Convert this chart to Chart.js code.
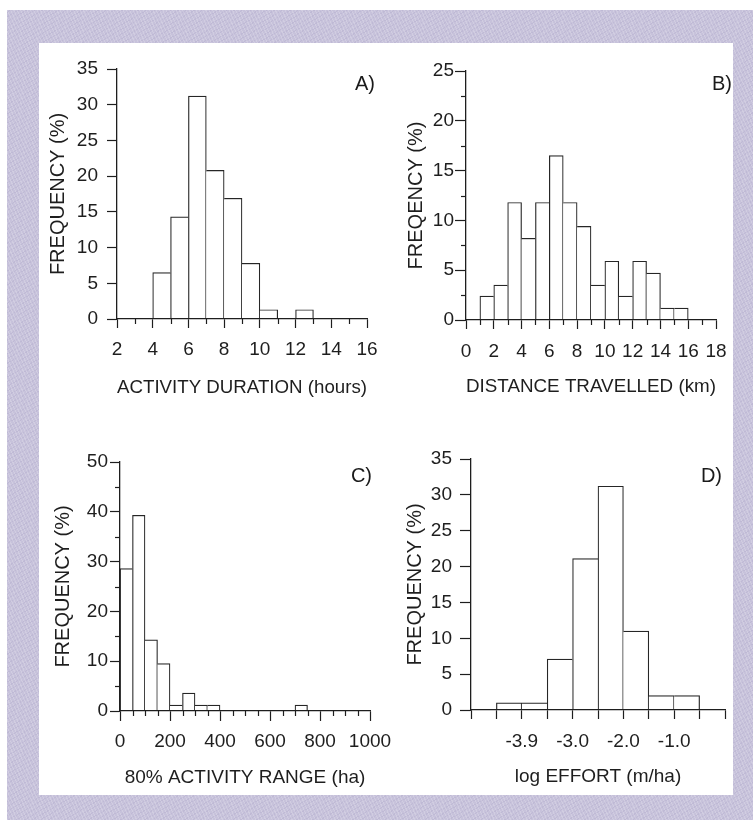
<!DOCTYPE html>
<html>
<head>
<meta charset="utf-8">
<script src="https://cdn.jsdelivr.net/npm/chart.js@4.4.1/dist/chart.umd.min.js"></script>
<style>
  html, body { margin: 0; padding: 0; background: #fff; }
  body { width: 753px; height: 820px; position: relative; overflow: hidden; font-family: "Liberation Sans", Arial, sans-serif; }
  #frame {
    position: absolute; left: 7px; top: 10px; right: 0; bottom: 0;
    background:
      repeating-linear-gradient(65deg, rgba(255,255,255,0.18) 0 1px, transparent 1px 3px),
      repeating-linear-gradient(-30deg, rgba(120,110,160,0.10) 0 1px, transparent 1px 4px),
      #c7c2db;
  }
  #sheet { position: absolute; left: 39px; top: 43px; width: 694px; height: 752px; background: #fff; }
  canvas { position: absolute; left: 0; top: 0; }
  .tag { position: absolute; font-size: 20px; line-height: 1; color: #1a1a1a; }
</style>
</head>
<body>
<div id="frame"></div>
<div id="sheet"></div>
<canvas id="histA" width="753" height="820"></canvas>
<canvas id="histB" width="753" height="820"></canvas>
<canvas id="histC" width="753" height="820"></canvas>
<canvas id="histD" width="753" height="820"></canvas>
<div class="tag" style="right:378px; top:73px;">A)</div>
<div class="tag" style="right:21px; top:73px;">B)</div>
<div class="tag" style="right:381px; top:465px;">C)</div>
<div class="tag" style="right:31px; top:465px;">D)</div>

<script>
// A) activity duration, 1 h classes (start of class)
const durationBins = [4, 5, 6, 7, 8, 9, 10, 12];
const durationFreq = [6.5, 14.3, 31.2, 20.8, 16.9, 7.8, 1.3, 1.3];
const durationLabels = [2, 4, 6, 8, 10, 12, 14, 16];

// B) distance travelled, 1 km classes
const distanceBins = [1, 2, 3, 4, 5, 6, 7, 8, 9, 10, 11, 12, 13, 14, 15];
const distanceFreq = [2.4, 3.5, 11.8, 8.2, 11.8, 16.5, 11.8, 9.4, 3.5, 5.9, 2.4, 5.9, 4.7, 1.2, 1.2];
const distanceLabels = [0, 2, 4, 6, 8, 10, 12, 14, 16, 18];

// C) 80% activity range, 50 ha classes
const rangeBins = [0, 50, 100, 150, 200, 250, 300, 350, 700];
const rangeFreq = [28.6, 39.3, 14.3, 9.5, 1.2, 3.6, 1.2, 1.2, 1.2];
const rangeLabels = [0, 200, 400, 600, 800, 1000];

// D) log effort, class index on the axis
const effortBins = [1, 2, 3, 4, 5, 6, 7, 8];
const effortFreq = [1.0, 1.0, 7.1, 21.1, 31.2, 11.0, 2.0, 2.0];
const effortLabels = ['', '', '-3.9', '', '-3.0', '', '-2.0', '', '-1.0', '', ''];

const freqLabels35 = [0, 5, 10, 15, 20, 25, 30, 35];
const freqLabels25 = [0, 5, 10, 15, 20, 25];
const freqLabels50 = [0, 10, 20, 30, 40, 50];

const INK = '#1e1e1e';
Chart.defaults.font.family = '"Liberation Sans", Arial, sans-serif';
Chart.defaults.color = INK;

// short ticks for unlabelled values
const minorTicks = {
  id: 'minorTicks',
  afterDraw(chart, args, opts) {
    const c = chart.ctx;
    c.save();
    c.strokeStyle = INK;
    c.lineWidth = 1.2;
    ['x', 'y'].forEach(id => {
      const len = opts[id];
      if (!len) return;
      const s = chart.scales[id];
      s.ticks.forEach((t, i) => {
        if (t.label !== '') return;
        const p = Math.round(s.getPixelForTick(i)) + 0.5;
        c.beginPath();
        if (id === 'x') { c.moveTo(p, s.top); c.lineTo(p, s.top + len); }
        else { c.moveTo(s.right, p); c.lineTo(s.right - len, p); }
        c.stroke();
      });
    });
    c.restore();
  }
};

function edges(ctx, bins, freq, w) {
  const i = ctx.dataIndex;
  const f = freq[i];
  const hasL = i > 0 && bins[i - 1] === bins[i] - w;
  const hasR = i < bins.length - 1 && bins[i + 1] === bins[i] + w;
  return {
    top: 1.2,
    bottom: 0,
    left: (!hasL || freq[i - 1] < f) ? 1.2 : 0,
    right: (!hasR || freq[i + 1] <= f) ? 1.2 : 0
  };
}

function histogram(id, d, L) {
  new Chart(document.getElementById(id), {
    type: 'bar',
    data: {
      datasets: [{
        data: d.bins.map((b, i) => ({ x: b + d.width / 2, y: d.freq[i] })),
        backgroundColor: '#ffffff',
        borderColor: '#262626',
        borderWidth: ctx => edges(ctx, d.bins, d.freq, d.width),
        borderSkipped: false,
        barPercentage: 1,
        categoryPercentage: 1
      }]
    },
    options: {
      responsive: false,
      animation: false,
      events: [],
      layout: {
        padding: {
          left: L.area.left - L.yWidth,
          top: L.area.top,
          right: 753 - L.area.right,
          bottom: 820 - L.area.bottom - L.xHeight
        }
      },
      plugins: {
        legend: { display: false },
        tooltip: { enabled: false },
        minorTicks: { x: L.xMinor, y: L.yMinor }
      },
      scales: {
        x: {
          type: 'linear', min: d.xMin, max: d.xMax, offset: false,
          afterFit: s => { s.height = L.xHeight; },
          border: { color: INK, width: 1.3, z: 1 },
          grid: {
            offset: false, drawOnChartArea: false, drawTicks: true,
            tickLength: L.xTick, tickWidth: 1.2,
            tickColor: ctx => (L.xMinor && ctx.tick && ctx.tick.label === '') ? 'transparent' : INK
          },
          ticks: {
            stepSize: d.xStep, autoSkip: false, maxRotation: 0,
            padding: L.xPad, font: { size: 19 }, color: INK,
            callback: d.xLabel
          },
          title: { display: true, text: d.xTitle, font: { size: 19 }, color: INK, padding: 0 }
        },
        y: {
          min: 0, max: d.yMax,
          afterFit: s => { s.width = L.yWidth; },
          border: { color: INK, width: 1.3, z: 1 },
          grid: {
            drawOnChartArea: false, drawTicks: true,
            tickLength: L.yTick, tickWidth: 1.2,
            tickColor: ctx => (L.yMinor && ctx.tick && ctx.tick.label === '') ? 'transparent' : INK
          },
          ticks: {
            stepSize: d.yStep, autoSkip: false,
            padding: L.yPad, font: { size: 19 }, color: INK,
            callback: v => d.yLabels.includes(v) ? String(v) : ''
          },
          title: { display: true, text: d.yTitle, font: { size: 20 }, color: INK, padding: 0 }
        }
      }
    },
    plugins: [minorTicks]
  });
}

histogram('histA', {
  bins: durationBins, freq: durationFreq, width: 1,
  xMin: 2, xMax: 16, xStep: 1,
  xLabel: v => durationLabels.includes(v) ? String(v) : '',
  xTitle: 'ACTIVITY DURATION (hours)',
  yMax: 35, yStep: 5, yLabels: freqLabels35, yTitle: 'FREQUENCY (%)'
}, {
  area: { left: 117, top: 69, right: 367, bottom: 319 },
  yWidth: 71, xHeight: 80.4, xTick: 9, xPad: 10, yTick: 10, yPad: 9, xMinor: 5, yMinor: 0
});

histogram('histB', {
  bins: distanceBins, freq: distanceFreq, width: 1,
  xMin: 0, xMax: 18, xStep: 1,
  xLabel: v => distanceLabels.includes(v) ? String(v) : '',
  xTitle: 'DISTANCE TRAVELLED (km)',
  yMax: 25, yStep: 2.5, yLabels: freqLabels25, yTitle: 'FREQENCY (%)'
}, {
  area: { left: 466, top: 71, right: 716, bottom: 320 },
  yWidth: 62, xHeight: 78.4, xTick: 9, xPad: 11, yTick: 11, yPad: 1, xMinor: 5, yMinor: 5
});

histogram('histC', {
  bins: rangeBins, freq: rangeFreq, width: 50,
  xMin: 0, xMax: 1000, xStep: 50,
  xLabel: v => rangeLabels.includes(v) ? String(v) : '',
  xTitle: '80% ACTIVITY RANGE (ha)',
  yMax: 50, yStep: 5, yLabels: freqLabels50, yTitle: 'FREQUENCY (%)'
}, {
  area: { left: 120, top: 462, right: 370, bottom: 711 },
  yWidth: 69, xHeight: 78.4, xTick: 10, xPad: 9, yTick: 10, yPad: 2, xMinor: 5, yMinor: 5
});

histogram('histD', {
  bins: effortBins, freq: effortFreq, width: 1,
  xMin: 0, xMax: 10, xStep: 1,
  xLabel: (v, i) => effortLabels[i],
  xTitle: 'log EFFORT (m/ha)',
  yMax: 35, yStep: 5, yLabels: freqLabels35, yTitle: 'FREQUENCY (%)'
}, {
  area: { left: 471, top: 459, right: 725, bottom: 710 },
  yWidth: 68, xHeight: 78.4, xTick: 9, xPad: 11, yTick: 11, yPad: 8, xMinor: 0, yMinor: 0
});
</script>
</body>
</html>
